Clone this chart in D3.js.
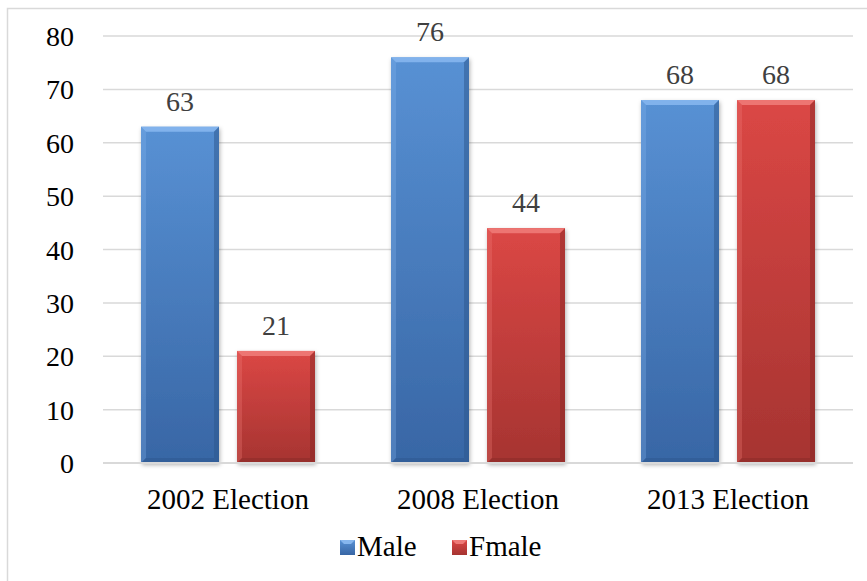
<!DOCTYPE html>
<html><head><meta charset="utf-8">
<script src="https://cdn.jsdelivr.net/npm/d3@7"></script>
</head><body>
<svg id="c" width="867" height="581"></svg>
<script>
const categories = ["2002 Election", "2008 Election", "2013 Election"];
const seriesNames = ["Male", "Fmale"];
const male = [63, 76, 68];
const fmale = [21, 44, 68];
const yTicks = [0, 10, 20, 30, 40, 50, 60, 70, 80];

document.body.style.margin = "0";
const svg = d3.select("#c").style("display", "block");
const font = '"Liberation Serif", serif';

const defs = svg.append("defs");
const palettes = {
  Male: {top: "#5891d4", bot: "#3866a5", light: "#86b6ee", dark: "#2c558c"},
  Fmale: {top: "#db4745", bot: "#a63431", light: "#ee7a77", dark: "#862826"}
};
Object.entries(palettes).forEach(([k, p]) => {
  const g = defs.append("linearGradient").attr("id", "g" + k).attr("x1", 0).attr("y1", 0).attr("x2", 0).attr("y2", 1);
  g.append("stop").attr("offset", "0%").attr("stop-color", p.top);
  g.append("stop").attr("offset", "100%").attr("stop-color", p.bot);
});
const f = defs.append("filter").attr("id", "sh").attr("x", "-20%").attr("y", "-10%").attr("width", "140%").attr("height", "130%");
f.append("feDropShadow").attr("dx", 1).attr("dy", 2).attr("stdDeviation", 2).attr("flood-color", "#000").attr("flood-opacity", 0.3);

// outer frame
svg.append("rect").attr("x", 7.5).attr("y", 8.5).attr("width", 880).attr("height", 600)
  .attr("fill", "none").attr("stroke", "#d9d9d9").attr("stroke-width", 1.5);

const pLeft = 103, pRight = 853, pTop = 36, pBottom = 463;
const y = d3.scaleLinear().domain([0, 80]).range([pBottom, pTop]);
const x0 = d3.scaleBand().domain(categories).range([pLeft, pRight]).paddingInner(0).paddingOuter(0);
const x1 = d3.scaleBand().domain(seriesNames).range([38, x0.bandwidth() - 38]).paddingInner(0.1875).paddingOuter(0);

function label(x, yy, txt, size, fill, anchor) {
  const t = svg.append("text").attr("x", x).attr("y", yy).attr("font-size", size)
    .attr("fill", fill).attr("text-anchor", anchor).attr("font-family", font).text(txt);
  t.style("font-family", font);
  return t;
}

// gridlines
svg.append("g").selectAll("line").data(yTicks.filter(d => d > 0)).join("line")
  .attr("x1", pLeft).attr("x2", pRight).attr("y1", d => y(d)).attr("y2", d => y(d))
  .attr("stroke", "#d9d9d9").attr("stroke-width", 1.5);

// y axis labels
yTicks.forEach(v => label(74, y(v) + 10, v, 28, "#000", "end"));

const data = categories.map((c, i) => ({cat: c, vals: [{s: "Male", v: male[i]}, {s: "Fmale", v: fmale[i]}]}));
const groups = svg.append("g").selectAll("g").data(data).join("g")
  .attr("transform", d => `translate(${x0(d.cat)},0)`);
const bw = x1.bandwidth();
const bars = groups.selectAll("g.bar").data(d => d.vals).join("g").attr("class", "bar");
bars.append("rect").attr("x", d => x1(d.s)).attr("y", d => y(d.v)).attr("width", bw)
  .attr("height", d => y(0) - y(d.v)).attr("fill", d => `url(#g${d.s})`).attr("filter", "url(#sh)");
// bevel edges
const bev = 5;
bars.append("path").attr("d", d => {
  const x = x1(d.s), yt = y(d.v);
  return `M${x},${yt}L${x + bw},${yt}L${x + bw - bev},${yt + bev}L${x + bev},${yt + bev}Z`;
}).attr("fill", d => palettes[d.s].light).attr("opacity", 0.9);
bars.append("path").attr("d", d => {
  const x = x1(d.s), yt = y(d.v), yb = y(0);
  return `M${x},${yt}L${x + bev},${yt + bev}L${x + bev},${yb - bev}L${x},${yb}Z`;
}).attr("fill", d => palettes[d.s].light).attr("opacity", 0.3);
bars.append("path").attr("d", d => {
  const x = x1(d.s), yt = y(d.v), yb = y(0);
  return `M${x + bw},${yt}L${x + bw - bev},${yt + bev}L${x + bw - bev},${yb - bev}L${x + bw},${yb}Z`;
}).attr("fill", d => palettes[d.s].dark).attr("opacity", 0.5);
bars.append("path").attr("d", d => {
  const x = x1(d.s), yb = y(0);
  return `M${x},${yb}L${x + bev},${yb - bev}L${x + bw - bev},${yb - bev}L${x + bw},${yb}Z`;
}).attr("fill", d => palettes[d.s].dark).attr("opacity", 0.45);

// value labels
data.forEach(d => d.vals.forEach(b => {
  label(x0(d.cat) + x1(b.s) + bw / 2, y(b.v) - 16, b.v, 28, "#404040", "middle");
}));

// baseline
svg.append("line").attr("x1", pLeft).attr("x2", pRight).attr("y1", y(0)).attr("y2", y(0))
  .attr("stroke", "#d9d9d9").attr("stroke-width", 2);

// category labels
categories.forEach(c => label(x0(c) + x0.bandwidth() / 2, pBottom + 46, c, 29, "#000", "middle"));

// legend
const legX = [340, 452];
seriesNames.forEach((s, i) => {
  svg.append("rect").attr("x", legX[i]).attr("y", 540).attr("width", 15).attr("height", 15).attr("fill", `url(#g${s})`);
  svg.append("path").attr("d", `M${legX[i]},540l15,0l-4,4l-7,0Z`).attr("fill", palettes[s].light);
  label(legX[i] + 17, 556, s, 29, "#000", "start");
});
</script>
</body></html>
